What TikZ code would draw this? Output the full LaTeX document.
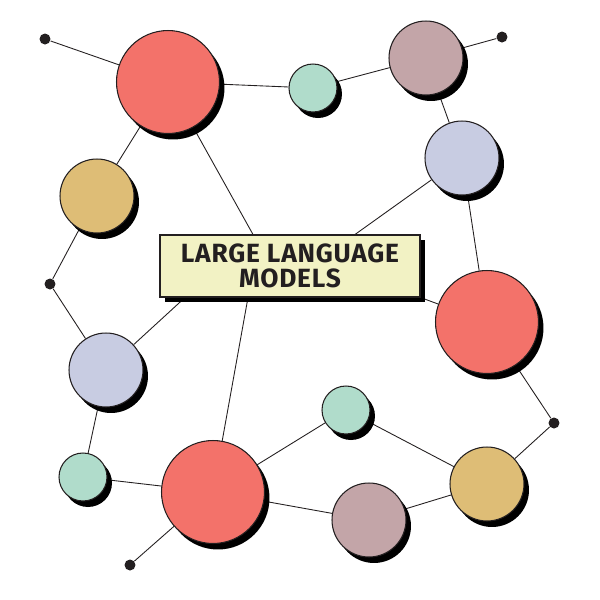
\documentclass[tikz,border=0pt]{standalone}
\usepackage{fontspec}
\setmainfont{Fira Sans}
\definecolor{llmred}{RGB}{243,114,106}
\definecolor{llmteal}{RGB}{176,220,203}
\definecolor{llmmauve}{RGB}{195,165,168}
\definecolor{llmlav}{RGB}{200,204,226}
\definecolor{llmgold}{RGB}{222,189,118}
\definecolor{llmbox}{RGB}{242,242,196}
\definecolor{llmink}{RGB}{35,31,32}
\usetikzlibrary{shadows, backgrounds}

\tikzset{
  bubble/.style={circle, draw=llmink, line width=0.6pt, inner sep=0pt,
    drop shadow={shadow xshift=0.1cm, shadow yshift=-0.12cm, opacity=1, fill=black}},
  bigbub/.style={bubble, minimum size=2.06cm},
  midbub/.style={bubble, minimum size=1.48cm},
  smallbub/.style={bubble, minimum size=0.96cm},
  tipdot/.style={circle, fill=llmink, inner sep=0pt, minimum size=0.22cm},
  link/.style={draw=llmink, line width=0.5pt}
}

\begin{document}
\begin{tikzpicture}[x=0.02cm, y=-0.02cm]
\useasboundingbox (0,0) rectangle (600,600);

% title box
\node[draw=llmink, line width=0.6pt, fill=llmbox, minimum width=5.2cm, minimum height=1.24cm,
  align=center, text=llmink, font=\bfseries\fontsize{15}{14.5}\selectfont\addfontfeature{LetterSpace=3},
  drop shadow={shadow xshift=0.1cm, shadow yshift=-0.1cm, opacity=1, fill=black}]
  (llm) at (290,266) {LARGE LANGUAGE\\MODELS};

% bubbles
\node[bigbub, fill=llmred] (redtl) at (168,82) {};
\node[smallbub, fill=llmteal] (tealtop) at (313,88) {};
\node[midbub, fill=llmmauve] (mauvetr) at (426,58) {};
\node[midbub, fill=llmlav] (lavtr) at (462,158) {};
\node[midbub, fill=llmgold] (goldl) at (97,196) {};
\node[bigbub, fill=llmred] (redr) at (487,322) {};
\node[midbub, fill=llmlav] (lavl) at (106,370) {};
\node[smallbub, fill=llmteal] (teall) at (83,477) {};
\node[bigbub, fill=llmred] (redb) at (213,492) {};
\node[smallbub, fill=llmteal] (tealb) at (346,410) {};
\node[midbub, fill=llmmauve] (mauveb) at (369,520) {};
\node[midbub, fill=llmgold] (goldr) at (487,484) {};

% end dots
\node[tipdot] (dottl) at (45,39) {};
\node[tipdot] (dottr) at (502,37) {};
\node[tipdot] (dotl) at (50,284) {};
\node[tipdot] (dotr) at (554,423) {};
\node[tipdot] (dotb) at (130,565) {};

% links
\begin{scope}[on background layer]
\draw[link] (dottl) -- (redtl) -- (tealtop) -- (mauvetr) -- (dottr);
\draw[link] (mauvetr) -- (lavtr) -- (redr) -- (dotr) -- (goldr);
\draw[link] (lavtr) -- ([xshift=1.3cm]llm.north);
\draw[link] (redtl) -- ([xshift=-0.74cm]llm.north);
\draw[link] (redr) -- (llm.south east);
\draw[link] (redtl) -- (goldl) -- (dotl) -- (lavl) -- (teall) -- (redb);
\draw[link] (lavl) -- ([xshift=-2.1cm]llm.south);
\draw[link] (redb) -- ([xshift=-0.84cm]llm.south);
\draw[link] (redb) -- (dotb);
\draw[link] (redb) -- (tealb) -- (goldr);
\draw[link] (redb) -- (mauveb) -- (goldr);
\end{scope}
\end{tikzpicture}
\end{document}
